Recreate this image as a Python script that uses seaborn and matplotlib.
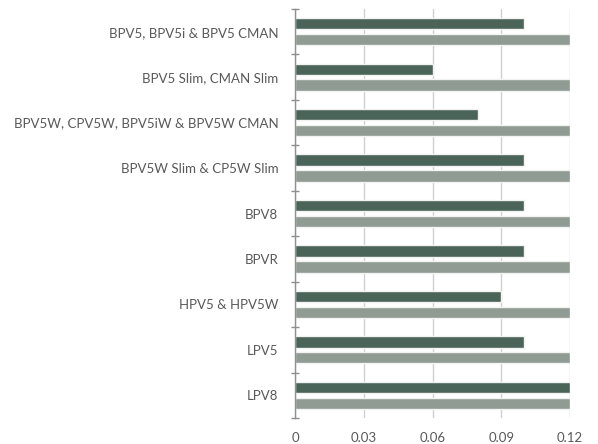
import matplotlib
matplotlib.use("Agg")
import matplotlib.pyplot as plt
import seaborn as sns
import pandas as pd
import numpy as np
from matplotlib.ticker import FixedLocator

categories = ["BPV5, BPV5i & BPV5 CMAN", "BPV5 Slim, CMAN Slim",
              "BPV5W, CPV5W, BPV5iW & BPV5W CMAN", "BPV5W Slim & CP5W Slim",
              "BPV8", "BPVR", "HPV5 & HPV5W", "LPV5", "LPV8"]
series_a = [0.10, 0.06, 0.08, 0.10, 0.10, 0.10, 0.09, 0.10, 0.12]
series_b = [0.12, 0.12, 0.12, 0.12, 0.12, 0.12, 0.12, 0.12, 0.12]
series_names = ["A", "B"]
xticks = [0, 0.03, 0.06, 0.09, 0.12]
xtick_labels = ["0", "0.03", "0.06", "0.09", "0.12"]

df = pd.DataFrame({
    "cat": categories * 2,
    "val": series_a + series_b,
    "ser": [series_names[0]] * len(categories) + [series_names[1]] * len(categories),
})

sns.set_style("white")
plt.rcParams["font.family"] = ["Lato", "DejaVu Sans"]

fig = plt.figure(figsize=(5.98, 4.44), dpi=100)
ax = fig.add_axes([295 / 598, 1 - 418 / 444, 275 / 598, 409 / 444])

sns.barplot(data=df, y="cat", x="val", hue="ser", orient="h", ax=ax,
            palette=["#4b6459", "#8f9b93"], width=0.7, legend=False,
            edgecolor="#f2f2f2", linewidth=1, saturation=1)

# shrink bars while keeping dodge centers
for p in ax.patches:
    h = p.get_height()
    cy = p.get_y() + h / 2
    nh = 0.25
    p.set_y(cy - nh / 2)
    p.set_height(nh)

n = len(categories)
ax.set_ylim(n - 0.5, -0.5)
ax.set_xlim(0, 0.12)
ax.set_xticks(xticks)
ax.set_xticklabels(xtick_labels)
ax.set_xlabel("")
ax.set_ylabel("")

ax.grid(axis="x", color="#d0d0d0", linewidth=1)
ax.set_axisbelow(True)

for s in ["top", "right", "bottom"]:
    ax.spines[s].set_visible(False)
ax.spines["left"].set_color("#8f8f8f")
ax.spines["left"].set_linewidth(1.0)

ax.yaxis.set_minor_locator(FixedLocator(np.arange(-0.5, n, 1.0)))
ax.tick_params(axis="y", which="major", length=0, pad=12, labelsize=9.5, labelcolor="#595959")
ax.tick_params(axis="y", which="minor", length=6, direction="inout", color="#8f8f8f", width=1.0, left=True)
ax.tick_params(axis="x", which="major", length=0, pad=10, labelsize=9.5, labelcolor="#595959")

fig.savefig("out.png", dpi=100)
